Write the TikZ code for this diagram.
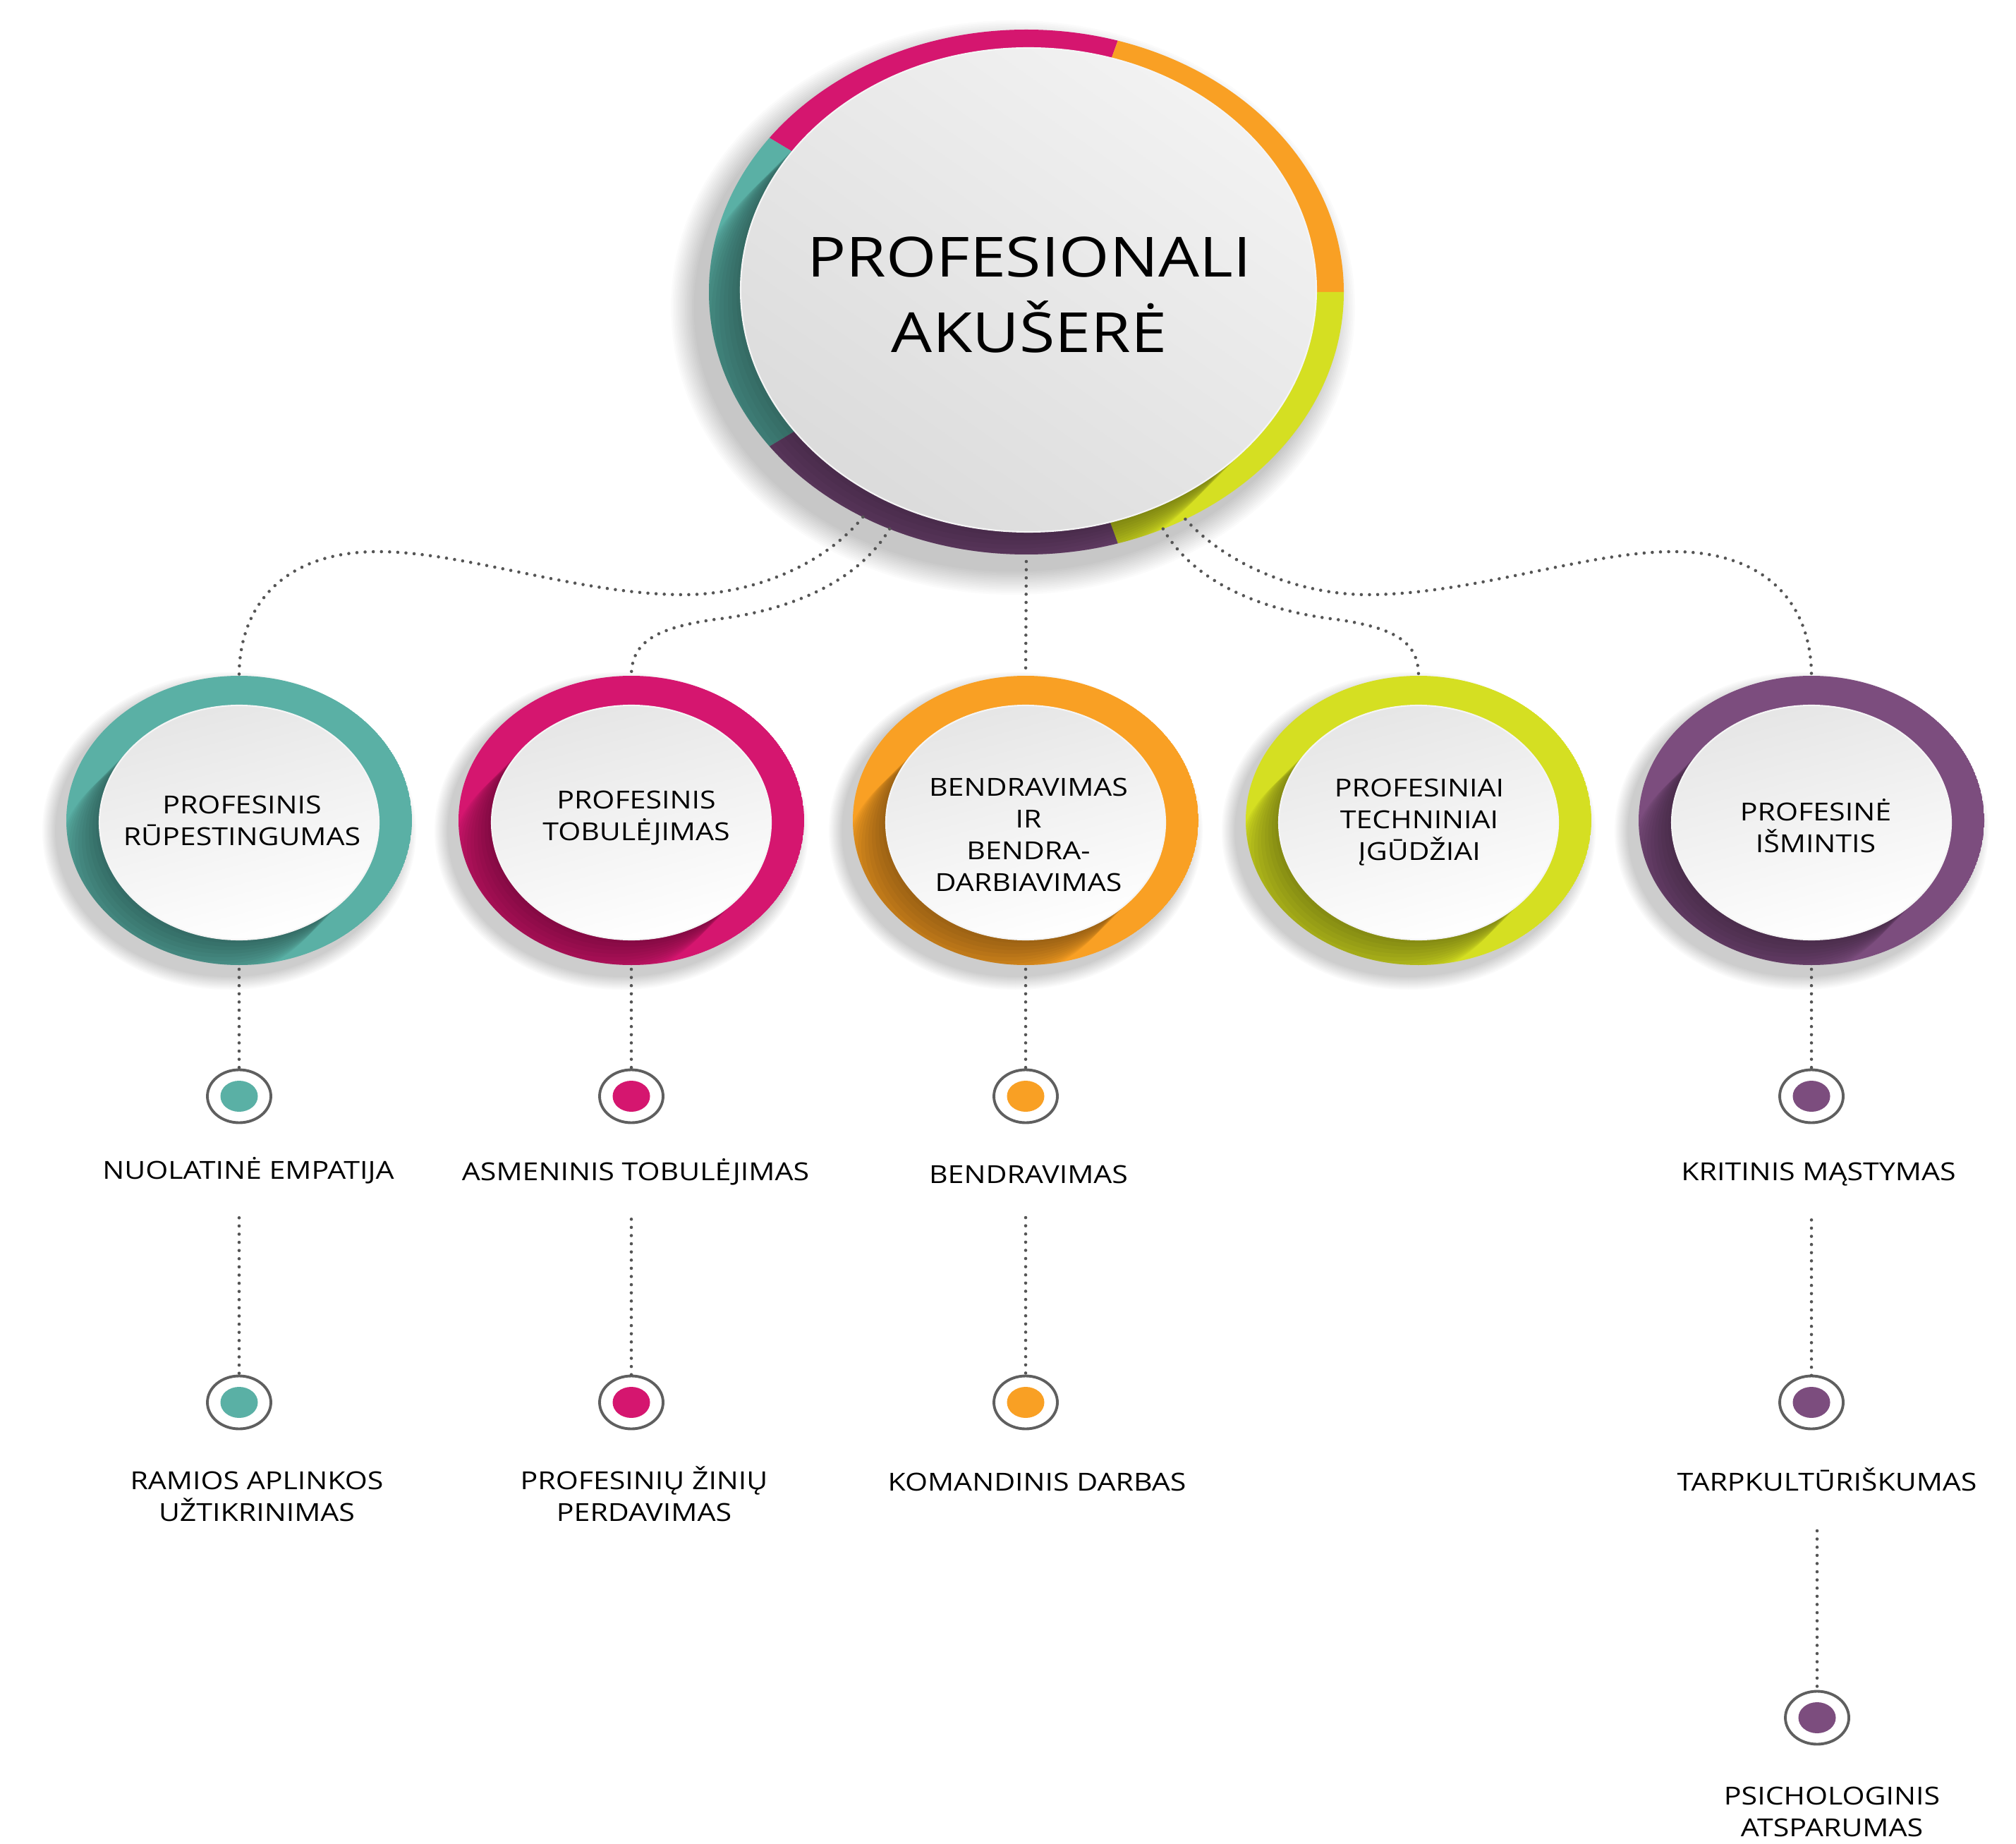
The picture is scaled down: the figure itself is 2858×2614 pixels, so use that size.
\documentclass[tikz,border=0pt]{standalone}
\usepackage{fontspec}
\setmainfont{Open Sans}[FakeStretch=1.17]
\usetikzlibrary{shapes.geometric,calc}
\definecolor{cteal}{HTML}{5AB0A5}
\definecolor{cmag}{HTML}{D5166F}
\definecolor{corange}{HTML}{F9A024}
\definecolor{clime}{HTML}{D5DF22}
\definecolor{cpurple}{HTML}{7C4D7E}
\definecolor{cdot}{HTML}{555555}
\definecolor{cbul}{HTML}{5F5F5F}
\tikzset{
  dotline/.style={draw=cdot, line width=1.3pt, line cap=round, dash pattern=on 0pt off 3.3pt},
  anchorell/.style={ellipse, inner sep=0pt, outer sep=0pt},
  lab/.style={font=\fontsize{10}{12.8}\selectfont, align=center, inner sep=0pt, text=black},
  bul/.style={ellipse, draw=cbul, line width=1.1pt, fill=white, minimum width=9mm, minimum height=7.5mm, inner sep=0pt, outer sep=0pt},
  disc/.style={top color=gray!20, middle color=white!96!gray, bottom color=white, shading angle=15},
}
\newcommand\skcirc[3]{%
  \foreach \k in {1,...,10}
    \fill[black,opacity=0.018] (#2-14,1178) ellipse [x radius=245+2*\k, y radius=205+2*\k];
  \begin{scope}
    \clip (#2,1163) ellipse [x radius=245, y radius=205];
    \fill[#3] (#2,1163) ellipse [x radius=245, y radius=205];
    \foreach \k in {1,...,12}
      \fill[black,opacity=0.035] (#2-5*\k,1166+5*\k) ellipse [x radius=198, y radius=166];
  \end{scope}
  \shade[disc] (#2,1166) ellipse [x radius=198, y radius=166];
  \draw[white!92!gray, line width=0.6pt] (#2,1166) ellipse [x radius=198, y radius=166];
  \node[anchorell, minimum width=49mm, minimum height=41mm] (#1) at (#2,1163) {};
}
\begin{document}
\begin{tikzpicture}[x=0.1mm,y=-0.1mm]
\useasboundingbox (0,0) rectangle (2858,2614);
\fill[white] (0,0) rectangle (2858,2614);

% ---------- main circle ----------
\foreach \k in {1,...,14}
  \fill[black,opacity=0.016] (1436,436) ellipse [x radius=450+2.5*\k, y radius=372+2.5*\k];
\begin{scope}
  \clip (1455,414) ellipse [x radius=450, y radius=372];
  \fill[cteal]   (1455,414) -- +(-149:1200) -- +(-180:1200) -- +(-211:1200) -- cycle;
  \fill[cmag]    (1455,414) -- +(-70:1200) -- +(-110:1200) -- +(-149:1200) -- cycle;
  \fill[corange] (1455,414) -- +(0:1200) -- +(-35:1200) -- +(-70:1200) -- cycle;
  \fill[clime]   (1455,414) -- +(0:1200) -- +(35:1200) -- +(70:1200) -- cycle;
  \fill[cpurple] (1455,414) -- +(70:1200) -- +(110:1200) -- +(149:1200) -- cycle;
  \foreach \k in {1,...,14}
    \fill[black,opacity=0.03] (1458-6*\k,411+6*\k) ellipse [x radius=408, y radius=343];
\end{scope}
\shade[top color=gray!10, middle color=white!97!gray, bottom color=gray!28, shading angle=-35]
  (1458,411) ellipse [x radius=408, y radius=343];
\draw[white!92!gray, line width=0.6pt] (1458,411) ellipse [x radius=408, y radius=343];
\node[anchorell, minimum width=90mm, minimum height=74.4mm] (main) at (1455,414) {};
\node[font=\fontsize{22.3}{30.7}\selectfont, align=center, inner sep=0pt] (mt) at (1459,418) {PROFESIONALI\\AKUŠERĖ};

% ---------- second level ----------
\skcirc{c1}{339}{cteal}
\skcirc{c2}{895}{cmag}
\skcirc{c3}{1454}{corange}
\skcirc{c4}{2011}{clime}
\skcirc{c5}{2568}{cpurple}

\node[lab] (l1) at (343,1163) {PROFESINIS\\RŪPESTINGUMAS};
\node[lab] (l2) at (902,1160) {PROFESINIS\\TOBULĖJIMAS};
\node[lab] (l3) at (1458,1183) {BENDRAVIMAS\\IR\\BENDRA-\\DARBIAVIMAS};
\node[lab] (l4) at (2012,1166) {PROFESINIAI\\TECHNINIAI\\ĮGŪDŽIAI};
\node[lab] (l5) at (2574,1171) {PROFESINĖ\\IŠMINTIS};

% ---------- bullets ----------
\node[bul] (b11) at (339,1554) {};  \fill[cteal]   (b11) ellipse [x radius=26.5, y radius=22];
\node[bul] (b12) at (339,1988) {};  \fill[cteal]   (b12) ellipse [x radius=26.5, y radius=22];
\node[bul] (b21) at (895,1554) {};  \fill[cmag]    (b21) ellipse [x radius=26.5, y radius=22];
\node[bul] (b22) at (895,1988) {};  \fill[cmag]    (b22) ellipse [x radius=26.5, y radius=22];
\node[bul] (b31) at (1454,1554) {}; \fill[corange] (b31) ellipse [x radius=26.5, y radius=22];
\node[bul] (b32) at (1454,1988) {}; \fill[corange] (b32) ellipse [x radius=26.5, y radius=22];
\node[bul] (b51) at (2568,1554) {}; \fill[cpurple] (b51) ellipse [x radius=26.5, y radius=22];
\node[bul] (b52) at (2568,1988) {}; \fill[cpurple] (b52) ellipse [x radius=26.5, y radius=22];
\node[bul] (b53) at (2576,2435) {}; \fill[cpurple] (b53) ellipse [x radius=26.5, y radius=22];

% ---------- bullet texts ----------
\node[lab, anchor=base] (t11) at (352,1671) {NUOLATINĖ EMPATIJA};
\node[lab] (t12) at (364,2121) {RAMIOS APLINKOS\\UŽTIKRINIMAS};
\node[lab, anchor=base] (t21) at (901,1673) {ASMENINIS TOBULĖJIMAS};
\node[lab] (t22) at (913,2118) {PROFESINIŲ ŽINIŲ\\PERDAVIMAS};
\node[lab, anchor=base] (t31) at (1458,1677) {BENDRAVIMAS};
\node[lab, anchor=base] (t32) at (1470,2113) {KOMANDINIS DARBAS};
\node[lab, anchor=base] (t51) at (2578,1673) {KRITINIS MĄSTYMAS};
\node[lab, anchor=base] (t52) at (2590,2113) {TARPKULTŪRIŠKUMAS};
\node[lab] (t53) at (2597,2568) {PSICHOLOGINIS\\ATSPARUMAS};

% ---------- connectors ----------
\draw[dotline] (main.234) .. controls (1165,805) and (1060,843) .. (970,843)
  .. controls (820,843) and (660,782) .. (536,782)
  .. controls (400,782) and (339,860) .. (c1.north);
\draw[dotline] (main.240) .. controls (1210,835) and (1100,868) .. (1014,878)
  .. controls (930,890) and (895,910) .. (c2.north);
\draw[dotline, shorten <=1mm] (main.south) -- (c3.north);
\draw[dotline] (main.300) .. controls (1698,835) and (1808,868) .. (1894,878)
  .. controls (1978,890) and (2011,910) .. (c4.north);
\draw[dotline] (main.305) .. controls (1743,805) and (1848,843) .. (1938,843)
  .. controls (2088,843) and (2248,782) .. (2372,782)
  .. controls (2508,782) and (2568,860) .. (c5.north);

\draw[dotline, shorten <=0.6mm] (c1.south) -- (b11.north);
\draw[dotline, shorten <=0.6mm] (c2.south) -- (b21.north);
\draw[dotline, shorten <=0.6mm] (c3.south) -- (b31.north);
\draw[dotline, shorten <=0.6mm] (c5.south) -- (b51.north);

\draw[dotline, shorten <=4.8mm] (b12.north |- t11.south) -- (b12.north);
\draw[dotline, shorten <=4.8mm] (b22.north |- t21.south) -- (b22.north);
\draw[dotline, shorten <=4.8mm] (b32.north |- t31.south) -- (b32.north);
\draw[dotline, shorten <=4.8mm] (b52.north |- t51.south) -- (b52.north);
\draw[dotline, shorten <=5.6mm] (b53.north |- t52.south) -- (b53.north);
\end{tikzpicture}
\end{document}
